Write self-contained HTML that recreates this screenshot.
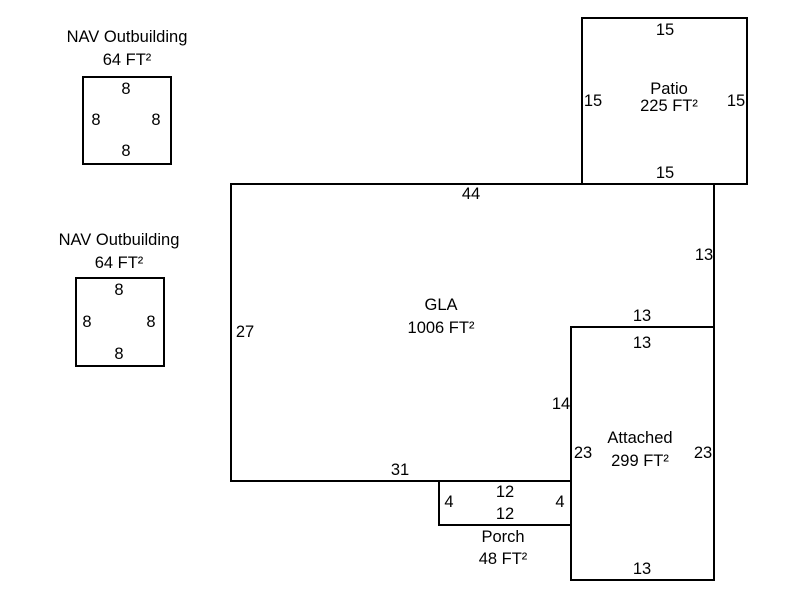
<!DOCTYPE html>
<html><head><meta charset="utf-8"><style>
html,body{margin:0;padding:0;background:#fff;}
svg{display:block;}
text{font-family:"Liberation Sans",Arial,sans-serif;font-size:16.5px;fill:#000;text-anchor:middle;}
</style></head><body>
<svg width="800" height="600" viewBox="0 0 800 600" xmlns="http://www.w3.org/2000/svg">
<g fill="none" stroke="#000" stroke-width="2">
<rect x="83" y="77" width="88" height="87"/>
<rect x="76" y="278" width="88" height="88"/>
<rect x="582" y="18" width="165" height="166"/>
<polygon points="231,184 714,184 714,327 571,327 571,481 231,481"/>
<rect x="571" y="327" width="143" height="253"/>
<rect x="439" y="481" width="132" height="44"/>
</g>
<text x="127" y="42">NAV Outbuilding</text>
<text x="127" y="65">64 FT²</text>
<text x="126" y="94">8</text>
<text x="96" y="125">8</text>
<text x="156" y="125">8</text>
<text x="126" y="156">8</text>
<text x="119" y="245">NAV Outbuilding</text>
<text x="119" y="268">64 FT²</text>
<text x="119" y="295">8</text>
<text x="87" y="327">8</text>
<text x="151" y="327">8</text>
<text x="119" y="359">8</text>
<text x="665" y="35">15</text>
<text x="669" y="94">Patio</text>
<text x="669" y="111">225 FT²</text>
<text x="593" y="106">15</text>
<text x="736" y="106">15</text>
<text x="665" y="178">15</text>
<text x="471" y="199">44</text>
<text x="704" y="260">13</text>
<text x="642" y="321">13</text>
<text x="642" y="348">13</text>
<text x="441" y="310">GLA</text>
<text x="441" y="333">1006 FT²</text>
<text x="245" y="337">27</text>
<text x="561" y="409">14</text>
<text x="640" y="443">Attached</text>
<text x="640" y="466">299 FT²</text>
<text x="583" y="458">23</text>
<text x="703" y="458">23</text>
<text x="400" y="475">31</text>
<text x="449" y="507">4</text>
<text x="560" y="507">4</text>
<text x="505" y="497">12</text>
<text x="505" y="519">12</text>
<text x="503" y="542">Porch</text>
<text x="503" y="564">48 FT²</text>
<text x="642" y="574">13</text>
</svg>
</body></html>
